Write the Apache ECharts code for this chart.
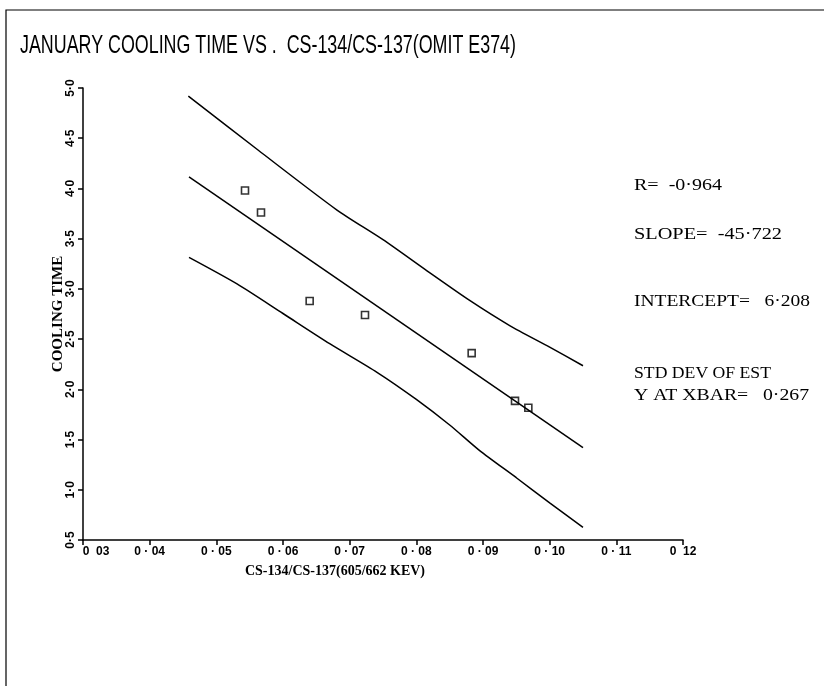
<!DOCTYPE html>
<html>
<head>
<meta charset="utf-8">
<script src="https://cdn.jsdelivr.net/npm/echarts@6/dist/echarts.min.js"></script>
<style>
html,body{margin:0;padding:0;background:#fff;}
#chart{width:824px;height:686px;}
</style>
</head>
<body>
<div id="chart"></div>
<script>
// ---- data ----
const titleText = 'JANUARY COOLING TIME VS .  CS-134/CS-137(OMIT E374)';
const xAxisName = 'CS-134/CS-137(605/662 KEV)';
const yAxisName = 'COOLING TIME';
const xTickLabels = ['0  03','0 · 04','0 · 05','0 · 06','0 · 07','0 · 08','0 · 09','0 · 10','0 · 11','0  12'];
const yTickLabels = ['0·5','1·0','1·5','2·0','2·5','3·0','3·5','4·0','4·5','5·0'];

const pointX = [0.0543, 0.0567, 0.0640, 0.0723, 0.0883, 0.0948, 0.0968];
const pointY = [3.98, 3.76, 2.88, 2.74, 2.36, 1.885, 1.816];

const fitX = [0.0459, 0.1050];
const fitY = [4.115, 1.42];

const upperX = [0.0458, 0.0563, 0.0681, 0.0750, 0.0816, 0.0880, 0.0940, 0.1000, 0.1050];
const upperY = [4.92, 4.38, 3.785, 3.49, 3.18, 2.885, 2.635, 2.42, 2.235];

const lowerX = [0.0459, 0.0531, 0.0600, 0.0670, 0.0741, 0.0800, 0.0850, 0.0895, 0.0950, 0.1000, 0.1050];
const lowerY = [3.314, 3.05, 2.755, 2.455, 2.17, 1.90, 1.645, 1.39, 1.12, 0.87, 0.625];

const statLines = [
  'R=  -0·964',
  'SLOPE=  -45·722',
  'INTERCEPT=   6·208',
  'STD DEV OF EST',
  'Y AT XBAR=   0·267'
];
// layout of the annotation block (pixels)
const statLeft = 634;
const statCenters = [186, 235, 302, 374, 396];
const statWidths = [88, 148, 176, 137, 175];

const zip = (xs, ys) => xs.map((x, i) => [x, ys[i]]);

const measureCtx = document.createElement('canvas').getContext('2d');
function textWidth(txt, font) { measureCtx.font = font; return measureCtx.measureText(txt).width; }

const serif = '"Liberation Serif", "DejaVu Serif", serif';
const titleFont = '26px "Liberation Sans", Arial, sans-serif';
const statFont = '16px ' + serif;

const chart = echarts.init(document.getElementById('chart'));
const lineStyle = { color: '#000', width: 1.5 };

const graphics = [
  { type: 'rect', shape: { x: 6, y: 10, width: 840, height: 700 }, style: { fill: 'none', stroke: '#000', lineWidth: 1.2 }, silent: true },
  { type: 'text', x: 20, y: 46, scaleX: 496 / textWidth(titleText, titleFont),
    style: { text: titleText, font: titleFont, fill: '#000', textVerticalAlign: 'middle' } }
];
statLines.forEach((t, i) => {
  graphics.push({ type: 'text', x: statLeft, y: statCenters[i], scaleX: statWidths[i] / textWidth(t, statFont),
    style: { text: t, font: statFont, fill: '#000', textVerticalAlign: 'middle' } });
});

chart.setOption({
  animation: false,
  backgroundColor: '#fff',
  grid: { left: 83, right: 141, top: 88, bottom: 146, containLabel: false },
  xAxis: {
    type: 'value', min: 0.03, max: 0.12, interval: 0.01,
    name: xAxisName, nameLocation: 'middle', nameGap: 24, nameMoveOverlap: false,
    nameTextStyle: { fontFamily: serif, fontSize: 14, fontWeight: 'bold', color: '#000', padding: [0, 96, 0, 0] },
    axisLine: { lineStyle: { color: '#000', width: 1.5 } },
    axisTick: { show: true, length: 5, inside: false, lineStyle: { color: '#000', width: 1.5 } },
    axisLabel: {
      margin: 6, color: '#000', fontSize: 12, fontWeight: 'bold', fontFamily: '"Liberation Sans", sans-serif',
      formatter: v => {
        const i = Math.round((v - 0.03) / 0.01);
        return i === 0 ? '{first|' + xTickLabels[i] + '}' : xTickLabels[i];
      },
      rich: { first: { padding: [0, 0, 0, 26], fontSize: 12, fontWeight: 'bold', color: '#000', fontFamily: '"Liberation Sans", sans-serif' } }
    },
    splitLine: { show: false }
  },
  yAxis: {
    type: 'value', min: 0.5, max: 5.0, interval: 0.5,
    name: yAxisName, nameLocation: 'middle', nameGap: 17, nameRotate: 90, nameMoveOverlap: false,
    nameTextStyle: { fontFamily: serif, fontSize: 15, fontWeight: 'bold', color: '#000' },
    axisLine: { lineStyle: { color: '#000', width: 1.5 } },
    axisTick: { show: true, length: 5, inside: false, lineStyle: { color: '#000', width: 1.5 } },
    axisLabel: {
      rotate: 90, margin: 6, color: '#000', fontSize: 12, fontWeight: 'bold', fontFamily: '"Liberation Sans", sans-serif',
      formatter: v => yTickLabels[Math.round((v - 0.5) / 0.5)]
    },
    splitLine: { show: false }
  },
  graphic: graphics,
  series: [
    { type: 'line', data: zip(upperX, upperY), showSymbol: false, smooth: 0.25, lineStyle, silent: true },
    { type: 'line', data: zip(fitX, fitY), showSymbol: false, lineStyle, silent: true },
    { type: 'line', data: zip(lowerX, lowerY), showSymbol: false, smooth: 0.25, lineStyle, silent: true },
    { type: 'scatter', data: zip(pointX, pointY), symbol: 'rect', symbolSize: 7,
      itemStyle: { color: '#fff', borderColor: '#000', borderWidth: 1.6 } }
  ]
});
</script>
</body>
</html>
